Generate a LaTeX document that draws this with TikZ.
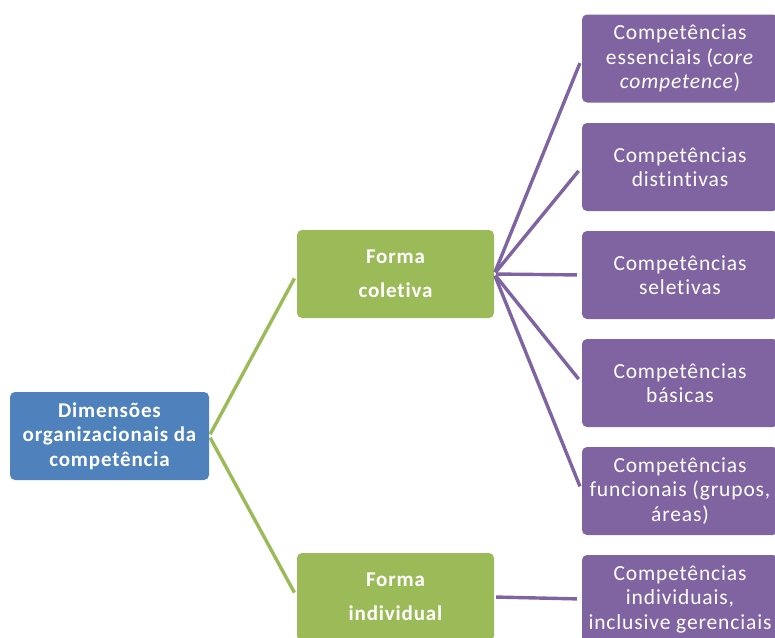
\documentclass[tikz,border=0pt]{standalone}
\usepackage{fontspec}
\setmainfont[LetterSpace=4,Ligatures=NoCommon]{Carlito}
\definecolor{blueC}{HTML}{4F81BD}
\definecolor{greenC}{HTML}{9BBB59}
\definecolor{purpleC}{HTML}{8064A2}
\tikzset{
  base/.style={rectangle, rounded corners=5pt, text=white, align=center,
    minimum width=197pt, minimum height=88pt, inner sep=0pt},
  bluebox/.style={base, fill=blueC, minimum width=199pt,
    font=\bfseries\fontsize{21}{24.5}\selectfont},
  greenbox/.style={base, fill=greenC, font=\bfseries\fontsize{21}{34}\selectfont},
  purplebox/.style={base, fill=purpleC, minimum width=196pt,
    font=\fontsize{21.5}{24.5}\selectfont},
  gline/.style={draw=greenC, line width=3.4pt, shorten <=2pt, shorten >=5pt},
  pline/.style={draw=purpleC, line width=3.4pt, shorten <=2pt, shorten >=5pt}
}
\begin{document}
\begin{tikzpicture}[x=1pt,y=-1pt]
\useasboundingbox (0,0) rectangle (775,637);
\clip (0,0) rectangle (775,637);
\node[bluebox] (dim) at (109.5,436) {Dimensões\\organizacionais da\\competência};
\node[greenbox] (col) at (395.5,274) {Forma\\coletiva};
\node[greenbox] (ind) at (395.5,597) {Forma\\individual};
\node[purplebox] (p1) at (680,58.5) {Competências\\essenciais (\textit{core}\\\textit{competence})};
\node[purplebox] (p2) at (680,167) {Competências\\distintivas};
\node[purplebox] (p3) at (680,275) {Competências\\seletivas};
\node[purplebox] (p4) at (680,383) {Competências\\básicas};
\node[purplebox] (p5) at (680,491) {Competências\\funcionais (grupos,\\áreas)};
\node[purplebox] (p6) at (680,599) {Competências\\individuais,\\inclusive gerenciais};
\draw[gline] (dim.east) -- (col.west);
\draw[gline] (dim.east) -- (ind.west);
\foreach \p in {p1,p2,p3,p4,p5} \draw[pline] (col.east) -- (\p.west);
\draw[pline] (ind.east) -- (p6.west);
\end{tikzpicture}
\end{document}
